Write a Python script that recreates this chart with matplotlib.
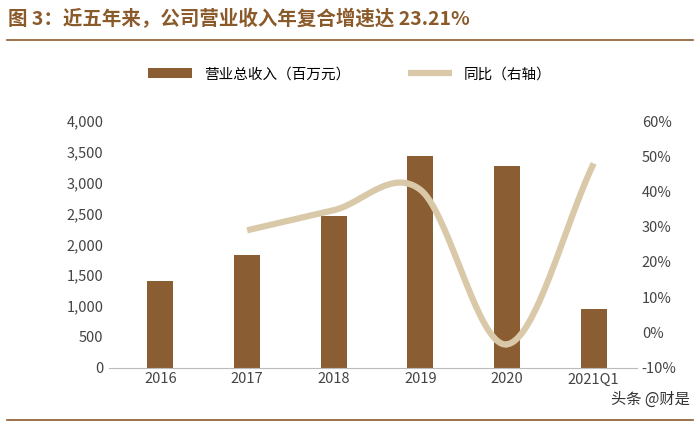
import numpy as np
import matplotlib
matplotlib.use("Agg")
import matplotlib.pyplot as plt

plt.rcParams['font.family'] = ['Noto Sans CJK SC', 'DejaVu Sans']

years = ["2016", "2017", "2018", "2019", "2020", "2021Q1"]
revenue = [1400, 1820, 2455, 3430, 3270, 945]
yoy_years = [1, 2, 3, 4, 5]
yoy = [29.0, 34.7, 40.5, -3.4, 48.0]

BAR = "#8a5d33"
LINE = "#d9c9a9"
BROWN = "#8b5a2b"


def smooth(xs, ys, n=40):
    # Catmull-Rom through the given points
    xs = np.asarray(xs, float); ys = np.asarray(ys, float)
    px = np.concatenate([[2 * xs[0] - xs[1]], xs, [2 * xs[-1] - xs[-2]]])
    py = np.concatenate([[2 * ys[0] - ys[1]], ys, [2 * ys[-1] - ys[-2]]])
    ox, oy = [], []
    t = np.linspace(0, 1, n)
    for i in range(1, len(px) - 2):
        for p, out in ((px, ox), (py, oy)):
            p0, p1, p2, p3 = p[i - 1], p[i], p[i + 1], p[i + 2]
            out.extend(0.5 * (2 * p1 + (-p0 + p2) * t + (2 * p0 - 5 * p1 + 4 * p2 - p3) * t**2
                              + (-p0 + 3 * p1 - 3 * p2 + p3) * t**3))
    return ox, oy


fig = plt.figure(figsize=(7, 4.25), dpi=100)
fig.text(0.012, 0.955, "图 3：近五年来，公司营业收入年复合增速达 23.21%", color=BROWN,
         fontsize=14, fontweight="bold", va="center")
fig.add_artist(plt.Line2D([0.01, 0.99], [0.905, 0.905], color=BROWN, lw=1.2))
fig.add_artist(plt.Line2D([0.01, 0.99], [0.012, 0.012], color=BROWN, lw=1.2))

ax = fig.add_axes([0.155, 0.135, 0.755, 0.58])
x = np.arange(len(years))
ax.bar(x, revenue, width=0.3, color=BAR, label="营业总收入（百万元）")
ax.set_ylim(0, 4000)
ax.set_yticks(range(0, 4001, 500))
ax.set_yticklabels([f"{v:,}" for v in range(0, 4001, 500)])
ax.set_xticks(x)
ax.set_xticklabels(years)
ax.set_xlim(-0.6, 5.5)
for s in ["top", "right", "left"]:
    ax.spines[s].set_visible(False)
ax.spines["bottom"].set_color("#bbbbbb")
ax.tick_params(length=0, labelsize=10.5, colors="#444444")

ax2 = ax.twinx()
sx, sy = smooth(yoy_years, yoy)
ax2.plot(sx, sy, color=LINE, lw=4.5, solid_capstyle="butt", label="同比（右轴）")
ax2.set_ylim(-10, 60)
ax2.set_yticks(range(-10, 61, 10))
ax2.set_yticklabels([f"{v}%" for v in range(-10, 61, 10)])
for s in ["top", "right", "left", "bottom"]:
    ax2.spines[s].set_visible(False)
ax2.tick_params(length=0, labelsize=10.5, colors="#444444")

h1, l1 = ax.get_legend_handles_labels()
h2, l2 = ax2.get_legend_handles_labels()
fig.legend(h1 + h2, l1 + l2, loc="center", bbox_to_anchor=(0.5, 0.825), ncol=2,
           frameon=False, fontsize=10.5, columnspacing=4, handlelength=3)

fig.text(0.985, 0.05, "头条 @财是", ha="right", fontsize=11, color="#333333")
fig.savefig("out.png", dpi=100)
